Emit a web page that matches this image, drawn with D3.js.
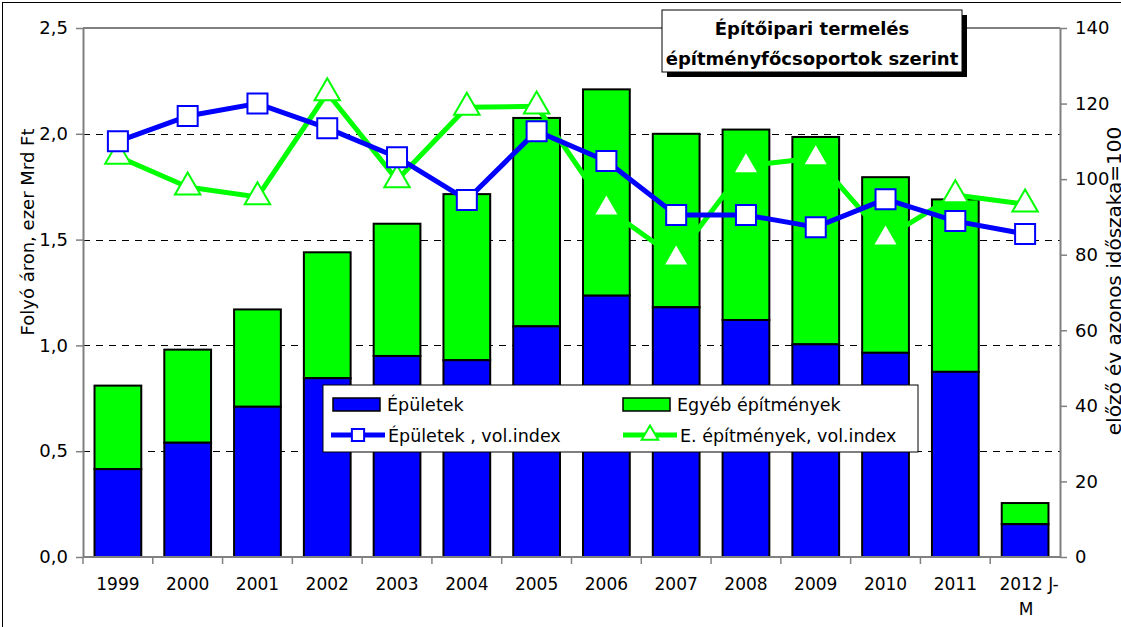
<!DOCTYPE html>
<html lang="hu">
<head>
<meta charset="UTF-8">
<title>Építőipari termelés</title>
<style>
  body { margin: 0; background: #fff; }
  text { font-family: "DejaVu Sans", Verdana, sans-serif; }
</style>
</head>
<body>
<svg id="chart" width="1121" height="627"></svg>
<script src="https://d3js.org/d3.v7.min.js"></script>
<script>
// adatok
var years = ["1999", "2000", "2001", "2002", "2003", "2004", "2005", "2006", "2007", "2008", "2009", "2010", "2011", "2012 J-M"];
var epuletek = [0.415, 0.54, 0.71, 0.845, 0.95, 0.93, 1.09, 1.235, 1.18, 1.12, 1.005, 0.965, 0.875, 0.155];
var egyeb = [0.395, 0.44, 0.46, 0.595, 0.625, 0.785, 0.985, 0.975, 0.82, 0.9, 0.98, 0.83, 0.815, 0.10];
var epuletekIndex = [110, 116.7, 120, 113.5, 105.8, 94.5, 112.7, 104.8, 90.5, 90.5, 87.3, 94.7, 88.9, 85.5];
var egyebIndex = [106, 97.9, 95.3, 122.8, 99.8, 119, 119.3, 92.3, 79.1, 103.5, 105.6, 84.4, 95.8, 93.4];
var leftTicks = [0, 0.5, 1.0, 1.5, 2.0, 2.5];
var rightTicks = [0, 20, 40, 60, 80, 100, 120, 140];

var blue = "#0000ff", green = "#00ff00";
var svg = d3.select("#chart");
var plotLeft = 83, plotRight = 1060, plotTop = 28, plotBottom = 557;

var x = d3.scaleBand().domain(years).range([plotLeft, plotRight]).paddingInner(0.33).paddingOuter(0.165);
var y = d3.scaleLinear().domain([0, 2.5]).range([plotBottom, plotTop]);
var y2 = d3.scaleLinear().domain([0, 140]).range([plotBottom, plotTop]);
var fmt = function(d) { return d3.format(".1f")(d).replace(".", ","); };

// keret
svg.append("rect").attr("x", 2.5).attr("y", 2.5).attr("width", 1130).attr("height", 640)
    .attr("fill", "none").attr("stroke", "#000").attr("stroke-width", 1);

// rácsvonalak
svg.append("g").selectAll("line")
    .data(leftTicks.filter(function(d) { return d > 0 && d < 2.5; }))
    .enter().append("line")
    .attr("x1", plotLeft).attr("x2", plotRight)
    .attr("y1", function(d) { return Math.round(y(d)) + 0.5; })
    .attr("y2", function(d) { return Math.round(y(d)) + 0.5; })
    .attr("stroke", "#000").attr("stroke-dasharray", "7,6");
svg.append("line").attr("x1", plotLeft).attr("x2", plotRight).attr("y1", plotTop).attr("y2", plotTop)
    .attr("stroke", "#808080").attr("stroke-width", 2);

// oszlopok
var stacked = years.map(function(d, i) { return { year: d, a: epuletek[i], b: egyeb[i] }; });
var bars = svg.append("g");
bars.selectAll(".green").data(stacked).enter().append("rect")
    .attr("x", function(d) { return x(d.year); })
    .attr("width", x.bandwidth())
    .attr("y", function(d) { return y(d.a + d.b); })
    .attr("height", function(d) { return y(d.a) - y(d.a + d.b); })
    .attr("fill", green).attr("stroke", "#000").attr("stroke-width", 2);
bars.selectAll(".blue").data(stacked).enter().append("rect")
    .attr("x", function(d) { return x(d.year); })
    .attr("width", x.bandwidth())
    .attr("y", function(d) { return y(d.a); })
    .attr("height", function(d) { return y(0) - y(d.a); })
    .attr("fill", blue).attr("stroke", "#000").attr("stroke-width", 2);

// tengelyek
var axL = svg.append("g").attr("transform", "translate(" + plotLeft + ",0)")
    .call(d3.axisLeft(y).tickValues(leftTicks).tickFormat(fmt).tickSize(7).tickSizeOuter(0).tickPadding(8));
var axR = svg.append("g").attr("transform", "translate(" + plotRight + ",0)")
    .call(d3.axisRight(y2).tickValues(rightTicks).tickSize(7).tickSizeOuter(0).tickPadding(8));
[axL, axR].forEach(function(ax) {
    ax.select(".domain").attr("stroke", "#808080").attr("stroke-width", 2);
    ax.selectAll(".tick line").attr("stroke", "#808080").attr("stroke-width", 1.5);
    ax.selectAll("text").attr("font-size", 18).attr("fill", "#000").attr("font-family", "DejaVu Sans");
});

var axB = svg.append("g").attr("transform", "translate(0," + plotBottom + ")");
axB.append("line").attr("x1", plotLeft).attr("x2", plotRight).attr("stroke", "#808080").attr("stroke-width", 2);
axB.selectAll(".tk").data(years).enter().append("line")
    .attr("x1", function(d) { return x(d) - x.step() * x.paddingInner() / 2; })
    .attr("x2", function(d) { return x(d) - x.step() * x.paddingInner() / 2; })
    .attr("y1", 0).attr("y2", 7).attr("stroke", "#808080").attr("stroke-width", 1.5);
axB.selectAll(".lbl").data(years).enter().append("text")
    .attr("x", function(d) { return x(d) + x.bandwidth() / 2; })
    .attr("y", 33).attr("text-anchor", "middle").attr("font-size", 17)
    .each(function(d) {
        var t = d3.select(this);
        if (d.indexOf(" ") > 0) {
            var parts = d.split("-");
            t.append("tspan").attr("x", x(d) + x.bandwidth() / 2 + 4).text(parts[0] + "-");
            t.append("tspan").attr("x", x(d) + x.bandwidth() / 2 + 1).attr("dy", 25).text(parts[1]);
        } else {
            t.text(d);
        }
    });

// tengelycímek
svg.append("text").attr("transform", "translate(34,232) rotate(-90)")
    .attr("text-anchor", "middle").attr("font-size", 18).text("Folyó áron, ezer Mrd Ft");
svg.append("text").attr("transform", "translate(1121,281) rotate(-90)")
    .attr("text-anchor", "middle").attr("font-size", 20).text("előző év azonos időszaka=100");

// vonalak
function drawLine(values, color, symbolType, size) {
    var pts = years.map(function(d, i) { return [x(d) + x.bandwidth() / 2, y2(values[i])]; });
    svg.append("path").attr("d", d3.line()(pts))
        .attr("fill", "none").attr("stroke", color).attr("stroke-width", 5).attr("stroke-linejoin", "round");
    svg.append("g").selectAll("path").data(pts).enter().append("path")
        .attr("transform", function(p) { return "translate(" + p[0] + "," + p[1] + ")"; })
        .attr("d", d3.symbol().type(symbolType).size(size))
        .attr("fill", "#fff").attr("stroke", color).attr("stroke-width", 2);
}
drawLine(egyebIndex, green, d3.symbolTriangle, 280);
drawLine(epuletekIndex, blue, d3.symbolSquare, 400);

// jelmagyarázat
var lg = svg.append("g").attr("transform", "translate(323,385)");
lg.append("rect").attr("width", 595).attr("height", 67).attr("fill", "#fff").attr("stroke", "#000");
var items = [
    { label: "Épületek", kind: "bar", color: blue, x: 10, y: 19 },
    { label: "Egyéb építmények", kind: "bar", color: green, x: 300, y: 19 },
    { label: "Épületek , vol.index", kind: "line", color: blue, x: 8, y: 50, sym: d3.symbolSquare, size: 150 },
    { label: "E. építmények, vol.index", kind: "line", color: green, x: 300, y: 50, sym: d3.symbolTriangle, size: 120 }
];
items.forEach(function(it) {
    var g = lg.append("g").attr("transform", "translate(" + it.x + "," + it.y + ")");
    if (it.kind === "bar") {
        g.append("rect").attr("x", 0).attr("y", -6).attr("width", 47).attr("height", 13)
            .attr("fill", it.color).attr("stroke", "#000").attr("stroke-width", 1.5);
    } else {
        g.append("line").attr("x1", 0).attr("x2", 54).attr("stroke", it.color).attr("stroke-width", 5);
        g.append("path").attr("transform", "translate(27,0)")
            .attr("d", d3.symbol().type(it.sym).size(it.size))
            .attr("fill", "#fff").attr("stroke", it.color).attr("stroke-width", 2);
    }
    g.append("text").attr("x", it.kind === "bar" ? 54 : 57).attr("y", 7).attr("font-size", 17.5).text(it.label);
});

// cím
var tb = svg.append("g").attr("transform", "translate(662,10)");
tb.append("rect").attr("x", 5).attr("y", 5).attr("width", 300).attr("height", 62).attr("fill", "#000");
tb.append("rect").attr("x", 0).attr("y", 0).attr("width", 300).attr("height", 62)
    .attr("fill", "#fff").attr("stroke", "#000");
tb.append("text").attr("x", 150).attr("y", 25).attr("text-anchor", "middle")
    .attr("font-size", 18).attr("font-weight", "bold").text("Építőipari termelés");
tb.append("text").attr("x", 150).attr("y", 55).attr("text-anchor", "middle")
    .attr("font-size", 18).attr("font-weight", "bold").text("építményfőcsoportok szerint");
</script>
</body>
</html>
